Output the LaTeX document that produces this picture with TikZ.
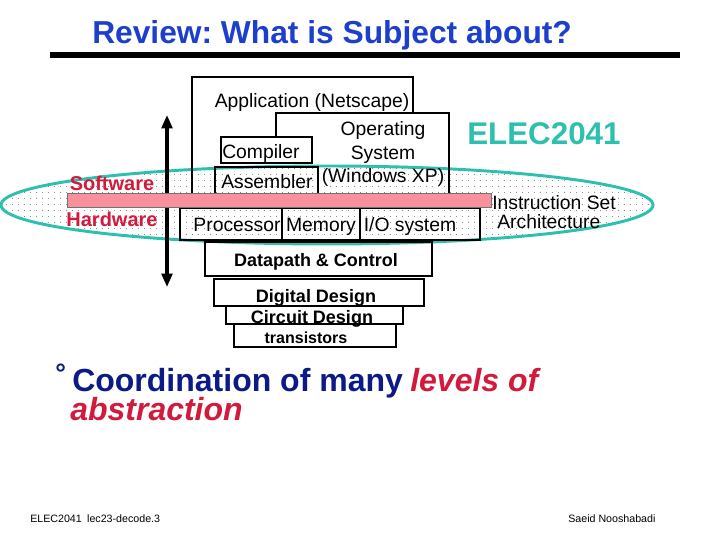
\documentclass[tikz,border=0pt]{standalone}
\usepackage{fontspec}
\setmainfont{Liberation Sans}
\usetikzlibrary{arrows.meta,patterns,patterns.meta}
\definecolor{titleblue}{HTML}{1C3FCC}
\definecolor{tealc}{HTML}{2EC0AE}
\definecolor{hwred}{HTML}{D21A3C}
\definecolor{navyc}{HTML}{0C1A88}
\definecolor{isapink}{HTML}{F7919C}
\tikzdeclarepattern{
  name=sparsedots,
  type=uncolored,
  bounding box={(0pt,0pt) and (4.5pt,4.5pt)},
  tile size={(4.5pt,4.5pt)},
  code={\pgfpathrectangle{\pgfpointorigin}{\pgfpoint{0.75pt}{0.75pt}}\pgfusepath{fill}}
}
\tikzset{
  box/.style={draw=black, line width=1.4pt},
  uptxt/.style={font=\fontsize{14.5}{17.5}\selectfont, inner sep=0pt},
  lowtxt/.style={font=\fontsize{13.5}{16}\selectfont\bfseries, inner sep=0pt},
  swtxt/.style={font=\fontsize{15}{18}\selectfont\bfseries, text=hwred, inner sep=0pt},
  bigtxt/.style={font=\fontsize{24}{26}\selectfont\bfseries, inner sep=0pt},
  foot/.style={font=\fontsize{8}{10}\selectfont, inner sep=0pt}
}
\frenchspacing
\begin{document}
\begin{tikzpicture}[x=0.75pt,y=-0.75pt]
\useasboundingbox (0,0) rectangle (720,540);
\fill[white] (0,0) rectangle (720,540);

% title
\node[font=\fontsize{23.8}{26}\selectfont\bfseries, text=titleblue, inner sep=0pt, anchor=base west] (title) at (92,43) {Review: What is Subject about?};
\fill[black] (50,52) rectangle (680,58);

% ellipse
\fill[pattern=sparsedots, pattern color=black!45] (327,205) ellipse [x radius=326, y radius=39];
\draw[tealc, line width=2.2pt] (327,205) ellipse [x radius=326, y radius=39];

% software boxes
\draw[box] (192,193) -- (192,77) -- (413,77) -- (413,113);
\draw[box] (276,137) -- (276,113) -- (449,113) -- (449,193);
\draw[box] (221,137) rectangle (312,163);
\draw[box] (215,193) -- (215,167) -- (318,167) -- (318,193);

% hardware boxes
\draw[box] (180,208) rectangle (480,240);
\draw[box] (282,208) -- (282,240);
\draw[box] (360,208) -- (360,240);
\draw[box] (205,242) rectangle (432,276);
\draw[box] (214,279) rectangle (424,306);
\draw[box] (226,306) rectangle (403,324);
\draw[box] (234,324) rectangle (396,347);

% arrow
\coordinate (atop) at (167,115);
\coordinate (abot) at (167,287);
\draw[line width=2.3pt, {Triangle[length=10pt,width=8pt]}-{Triangle[length=10pt,width=8pt]}] (atop) -- (abot);

% ISA bar
\draw[fill=isapink, draw=black!55, line width=0.6pt] (67,193) rectangle (491,207);

% texts
\node[uptxt, anchor=base] (app) at (312,107) {Application (Netscape)};
\node[uptxt, anchor=base] (os1) at (383,135) {Operating};
\node[uptxt, anchor=base] (os2) at (383,159) {System};
\node[uptxt, anchor=base] (os3) at (383,182) {(Windows XP)};
\node[uptxt, anchor=base west] (comp) at (222,158) {Compiler};
\node[uptxt, anchor=base west] (asm) at (221,188) {Assembler};
\node[uptxt, anchor=base] (proc) at (237,231) {Processor};
\node[uptxt, anchor=base] (mem) at (321,231) {Memory};
\node[uptxt, anchor=base] (io) at (410,231) {I/O system};
\node[lowtxt, anchor=base] (dp) at (316,266) {Datapath \& Control};
\node[lowtxt, anchor=base] (dd) at (316,302) {Digital Design};
\node[lowtxt, anchor=base] (cd) at (312,323) {Circuit Design};
\node[font=\fontsize{12}{14}\selectfont\bfseries, inner sep=0pt, anchor=base] (tr) at (306,343) {transistors};

\node[swtxt, anchor=base] (sw) at (112,190) {Software};
\node[swtxt, anchor=base] (hw) at (112,226) {Hardware};

\node[font=\fontsize{23.5}{26}\selectfont\bfseries, text=tealc, inner sep=0pt, anchor=base west] (elec) at (467,144) {ELEC2041};
\node[uptxt, anchor=base west] (isa1) at (492,209) {Instruction Set};
\node[uptxt, anchor=base west] (isa2) at (497,228) {Architecture};

\node[font=\fontsize{20}{22}\selectfont\bfseries, text=navyc, inner sep=0pt, anchor=base west] (bul) at (55,382) {°};
\node[bigtxt, text=navyc, anchor=base west] (coord) at (72,391) {Coordination of many};
\node[bigtxt, text=hwred, anchor=base west] (lev) at (410,391) {\itshape levels of};
\node[bigtxt, text=hwred, anchor=base west] (abs) at (70,420) {\itshape abstraction};

\node[foot, anchor=base west] (fl) at (30,522) {ELEC2041\enspace lec23-decode.3};
\node[foot, anchor=base west] (fr) at (568,522) {Saeid Nooshabadi};
\end{tikzpicture}
\end{document}
